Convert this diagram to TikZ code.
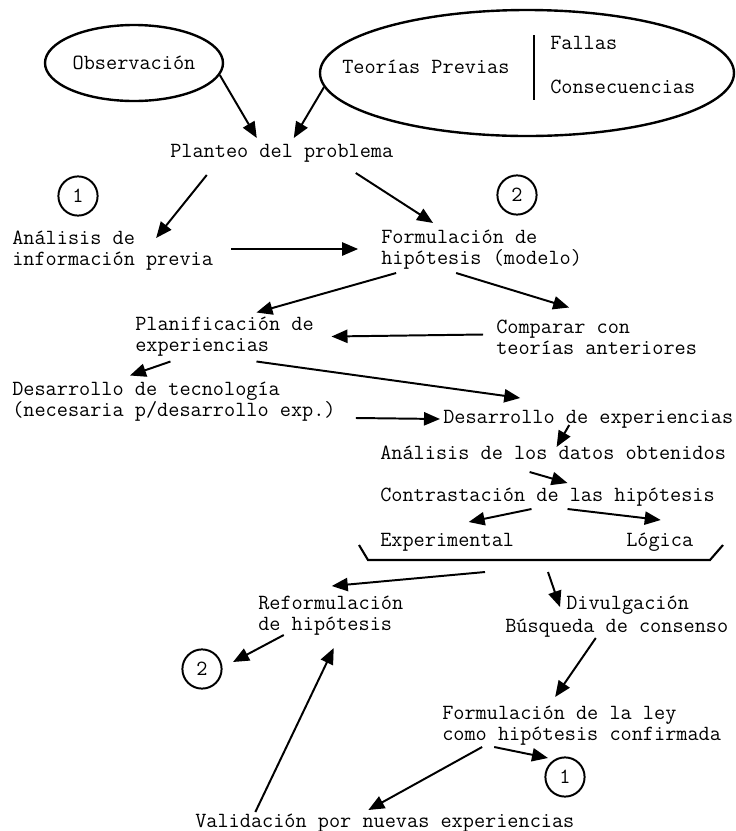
\documentclass[tikz,border=0pt]{standalone}
\usepackage{tikz}
\usetikzlibrary{arrows.meta,shapes.geometric,calc}
\tikzset{
  letra/.style={font=\ttfamily\fontsize{15.4}{15}\selectfont},
  txt/.style={letra, anchor=west, inner sep=0pt, align=left},
  arr/.style={-{Triangle[length=4mm,width=3.3mm]}, line width=1.4pt},
  ovalo/.style={letra, draw, ellipse, line width=1.7pt, inner sep=0pt},
  num/.style={letra, draw, circle, line width=1.4pt, minimum size=9.8mm, inner sep=0pt},
}

\begin{document}
\begin{tikzpicture}[x=0.25mm, y=-0.25mm]
    \useasboundingbox (0,0) rectangle (736,831);
    % 椭圆
    \node[ovalo, minimum width=44.5mm, minimum height=19mm] (obs) at (134,63) {Observación};
    \node[ovalo, minimum width=103.5mm, minimum height=31.5mm] (teo) at (527,73) {};
    \node[txt] (prev) at (342,67) {Teorías Previas};
    \node[txt] (fallas) at (550,43) {Fallas};
    \node[txt] (consec) at (550,87) {Consecuencias};
    \draw[line width=1.6pt] (534,35) -- (534,100);
    % 文字
    \node[txt] (plant) at (170,153) {Planteo del problema};
    \node[num] (uno) at (78,196) {1};
    \node[num] (dos) at (517,195) {2};
    \node[txt] (anal) at (12,251) {Análisis de\\información previa};
    \node[txt] (form) at (381,250) {Formulación de\\hipótesis (modelo)};
    \node[txt] (plan) at (135,337) {Planificación de\\experiencias};
    \node[txt] (comp) at (496,337) {Comparar con\\teorías anteriores};
    \node[txt] (tec) at (12,402) {Desarrollo de tecnología\\(necesaria p/desarrollo exp.)};
    \node[txt] (dexp) at (443,419) {Desarrollo de experiencias};
    \node[txt] (datos) at (380,453) {Análisis de los datos obtenidos};
    \node[txt] (contr) at (380,497) {Contrastación de las hipótesis};
    \node[txt] (expe) at (380,542) {Experimental};
    \node[txt] (logi) at (626,542) {Lógica};
    % 括号
    \draw[line width=1.5pt] (359,545) -- (368,560) -- (710,560) -- (723,545);
    \coordinate (brA) at (485,572);
    \coordinate (brB) at (548,572);
    \node[txt] (reform) at (258,616) {Reformulación\\de hipótesis};
    \node[txt] (divul) at (566,605) {Divulgación};
    \node[txt] (busq) at (505,628) {Búsqueda de consenso};
    \node[num] (dosb) at (202,669) {2};
    \node[txt] (ley) at (442,726) {Formulación de la ley\\como hipótesis confirmada};
    \node[num] (unob) at (565,777) {1};
    \node[txt] (valid) at (195,823) {Validación por nuevas experiencias};
    % 箭头
    \draw[arr] (obs.-8) -- ($(plant.center)+(-25,-15)$);
    \draw[arr] (teo.184) -- ($(plant.center)+(12,-15)$);
    \draw[arr] ($(plant.center)+(-75,22)$) -- ($(anal.center)+(43.5,-13)$);
    \draw[arr] ($(anal.center)+(118.5,-2)$) -- ($(form.center)+(-123.5,-1)$);
    \draw[arr] ($(plant.center)+(74,20)$) -- ($(form.center)+(-48.5,-27)$);
    \draw[arr] ($(form.center)+(-85.5,23)$) -- ($(plan.center)+(32,-24.5)$);
    \draw[arr] ($(form.center)+(-25.5,23)$) -- ($(comp.center)+(-27.5,-29.5)$);
    \draw[arr] ($(comp.center)+(-113.5,-2.5)$) -- ($(plan.center)+(107,-0.5)$);
    \draw[arr] ($(plan.center)+(-54,24.5)$) -- ($(tec.center)+(-44,-26.5)$);
    \draw[arr] ($(plan.center)+(32,24.5)$) -- ($(dexp.center)+(-68,-21)$);
    \draw[arr] ($(tec.center)+(182,16)$) -- ($(dexp.west)+(-3,0)$);
    \draw[arr] ($(dexp.center)+(-19,6)$) -- ($(datos.center)+(3.5,-6)$);
    \draw[arr] ($(datos.center)+(-23.5,19)$) -- ($(contr.center)+(20,-14)$);
    \draw[arr] ($(contr.center)+(-16,12)$) -- ($(expe.center)+(21.5,-20)$);
    \draw[arr] ($(contr.center)+(20,12)$) -- ($(logi.center)+(1,-22)$);
    \draw[arr] (brA) -- ($(reform.center)+(1,-30)$);
    \draw[arr] (brB) -- ($(divul.west)+(-6,2)$);
    \draw[arr] ($(reform.center)+(-47,19)$) -- ($(dosb.center)+(31,-7)$);
    \draw[arr] ($(valid.center)+(-129.5,-11)$) -- ($(reform.center)+(3,32)$);
    \draw[arr] ($(busq.center)+(-21,10)$) -- ($(ley.center)+(-26.5,-29)$);
    \draw[arr] ($(ley.center)+(-87.5,21)$) -- ($(unob.center)+(-17,-19)$);
    \draw[arr] ($(ley.center)+(-99.5,21)$) -- ($(valid.center)+(-16.5,-13)$);
\end{tikzpicture}
\end{document}
